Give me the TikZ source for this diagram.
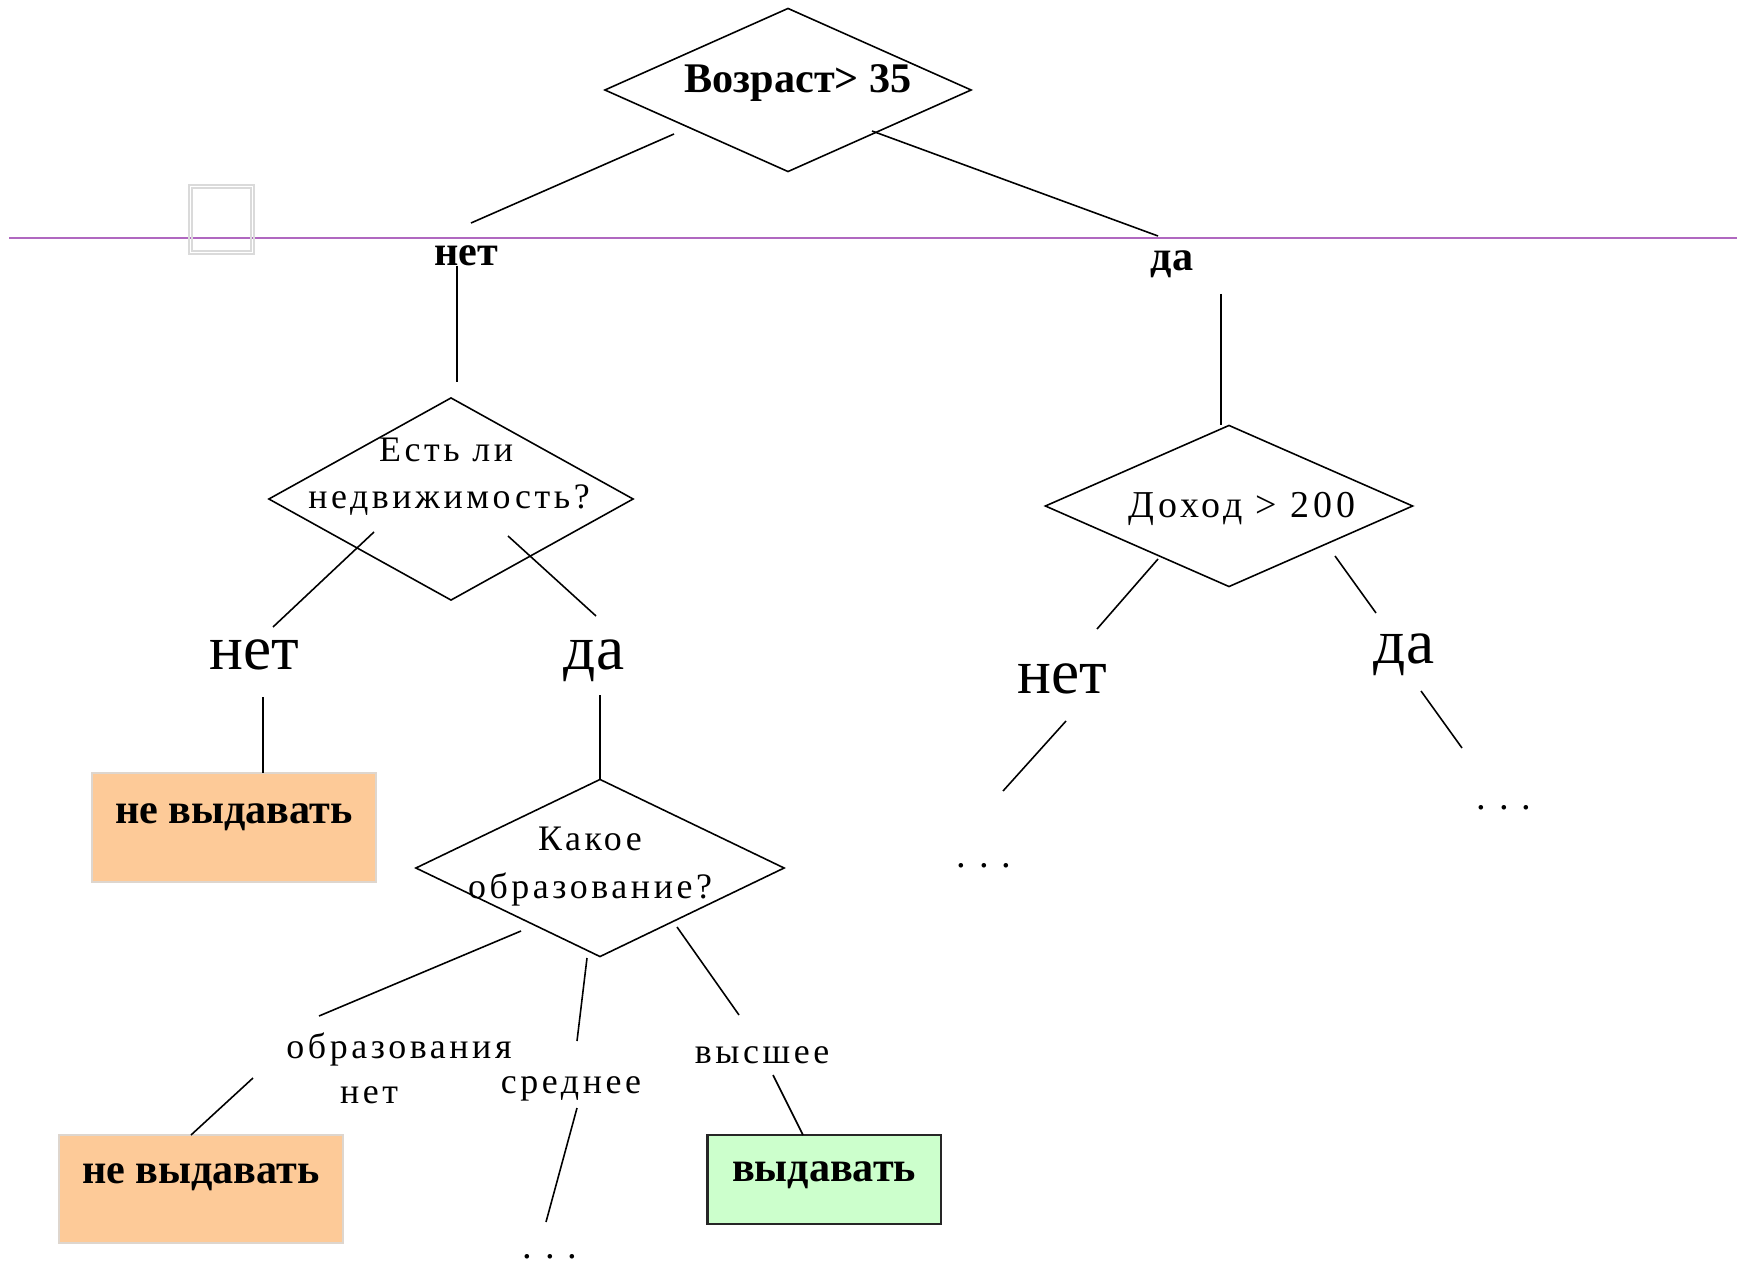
\documentclass[tikz,border=0pt]{standalone}
\usepackage{fontspec}
\setmainfont{Liberation Serif}
\newfontfamily\spacedserif[LetterSpace=10]{Liberation Serif}
\usetikzlibrary{shapes.geometric,calc}

\definecolor{refusefill}{RGB}{253,202,152}
\definecolor{refuseedge}{RGB}{222,214,206}
\definecolor{grantfill}{RGB}{204,255,204}
\definecolor{guideline}{RGB}{176,104,192}
\definecolor{ghostbox}{RGB}{218,218,218}

\begin{document}
\begin{tikzpicture}[x=0.01cm, y=-0.01cm, line width=0.45pt,
  decision/.style={draw, diamond, inner sep=0pt, outer sep=0pt},
  boldlabel/.style={anchor=base, inner sep=0pt, font=\fontsize{12}{14}\selectfont\bfseries},
  biglabel/.style={anchor=base, inner sep=0pt, font=\fontsize{18}{21}\selectfont},
  question/.style={anchor=base, inner sep=0pt, font=\fontsize{10.2}{13}\selectfont\spacedserif},
  leafbox/.style={anchor=north, inner sep=0pt, outer sep=0pt,
    font=\fontsize{12}{14}\selectfont\bfseries},
  refuse/.style={leafbox, fill=refusefill, draw=refuseedge},
  grant/.style={leafbox, fill=grantfill, draw=black!85, line width=0.6pt},
  more/.style={anchor=base, inner sep=0pt, font=\fontsize{11}{13}\selectfont}
]
\useasboundingbox (0,0) rectangle (1737,1264);

% guide line and empty frame
\draw[guideline, line width=0.6pt] (9,238) -- (1737,238);
\draw[ghostbox, line width=0.5pt] (189,185) rectangle (254,254);
\draw[ghostbox, line width=0.5pt] (192,188) rectangle (251,251);

% decision diamonds
\node[decision, minimum width=3.66cm, minimum height=1.63cm] (q1) at (788,90) {};
\node[decision, minimum width=3.64cm, minimum height=2.02cm] (q2) at (451,499) {};
\node[decision, minimum width=3.68cm, minimum height=1.77cm] (q3) at (600,868) {};
\node[decision, minimum width=3.67cm, minimum height=1.61cm] (q4) at (1229,506) {};

% questions
\node[boldlabel] (t1) at (798,93) {Возраст> 35};
\node[question] (t2a) at (446,462) {Есть ли};
\node[question] (t2b) at (449,508) {недвижимость?};
\node[question] (t3a) at (590,850) {Какое};
\node[question] (t3b) at (590,898) {образование?};
\node[question, font=\fontsize{10.8}{13}\selectfont\spacedserif] (t4) at (1242,517) {Доход > 200};

% answers
\node[boldlabel] (n1) at (466,266) {нет};
\node[boldlabel] (y1) at (1172,271) {да};
\node[biglabel] (n2) at (254,669) {нет};
\node[biglabel] (y2) at (594,669) {да};
\node[biglabel] (n3) at (1062,693) {нет};
\node[biglabel] (y3) at (1404,663) {да};
\node[question] (e0a) at (399,1058) {образования};
\node[question] (e0b) at (369,1103) {нет};
\node[question] (e1) at (571,1093) {среднее};
\node[question] (e2) at (762,1063) {высшее};

% leaves
\node[refuse, minimum width=2.84cm, text height=0.50cm, text depth=0.59cm] (b1) at (234,773) {не выдавать};
\node[refuse, minimum width=2.84cm, text height=0.48cm, text depth=0.60cm] (b2) at (201,1135) {не выдавать};
\node[grant, minimum width=2.33cm, text height=0.46cm, text depth=0.43cm] (b3) at (824,1135) {выдавать};
\node[more] (d1) at (550,1258) {. . .};
\node[more] (d2) at (984,867) {. . .};
\node[more] (d3) at (1504,809) {. . .};

% connectors
\draw ($(q1)+(-114,44)$) -- ($(n1.base)+(5,-43)$);
\draw ($(q1)+(84,41)$) -- ($(y1.base)+(-14,-35)$);
\draw ($(n1.base)+(-9,0)$) -- ($(q2.north)+(6,-16)$);
\draw ($(y1.base)+(49,23)$) -- ($(q4.north)+(-8,0)$);
\draw ($(q2)+(-77,33)$) -- ($(n2.base)+(19,-42)$);
\draw ($(q2)+(57,37)$) -- ($(y2.base)+(2,-53)$);
\draw ($(n2.base)+(9,28)$) -- ($(b1.north)+(29,0)$);
\draw ($(y2.base)+(6,26)$) -- (q3.north);
\draw ($(q3)+(-79,63)$) -- ($(e0a.base)+(-80,-42)$);
\draw ($(q3)+(-13,90)$) -- ($(e1.base)+(6,-52)$);
\draw ($(q3)+(77,59)$) -- ($(e2.base)+(-23,-48)$);
\draw ($(e0a.base)+(-146,20)$) -- ($(b2.north)+(-10,0)$);
\draw ($(e1.base)+(6,15)$) -- ($(d1.base)+(-4,-36)$);
\draw ($(e2.base)+(11,12)$) -- ($(b3.north)+(-21,0)$);
\draw ($(q4)+(-71,53)$) -- ($(n3.base)+(35,-64)$);
\draw ($(q4)+(106,50)$) -- ($(y3.base)+(-28,-50)$);
\draw ($(n3.base)+(4,28)$) -- ($(d2.base)+(19,-76)$);
\draw ($(y3.base)+(17,28)$) -- ($(d3.base)+(-42,-61)$);
\end{tikzpicture}
\end{document}
